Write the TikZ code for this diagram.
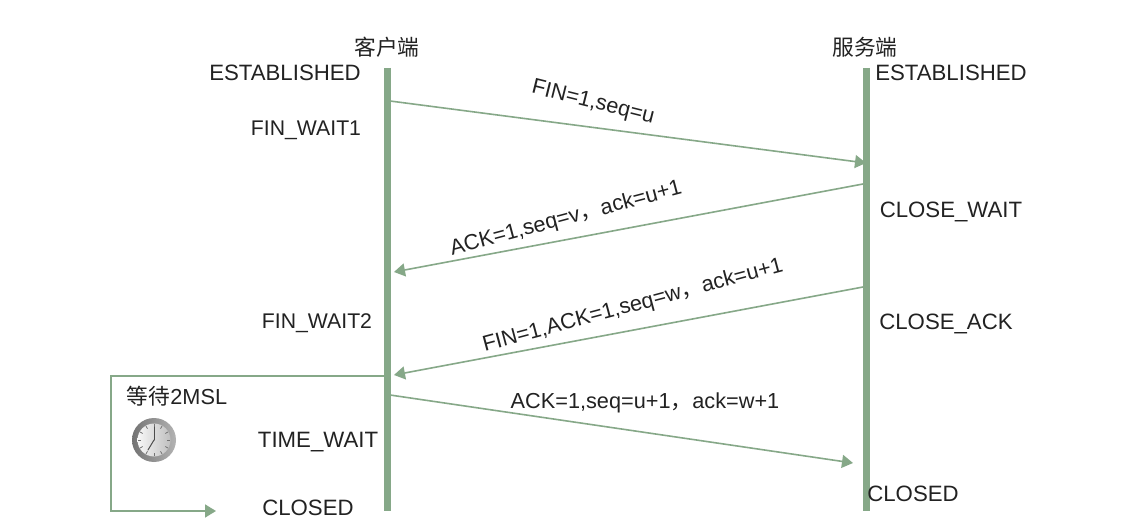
\documentclass[tikz,border=0pt]{standalone}
\usepackage{fontspec}
\setmainfont{Liberation Sans}
\newfontfamily\cjk{Noto Sans CJK SC}
\usetikzlibrary{arrows.meta,calc,positioning}
\definecolor{wire}{HTML}{86A888}
\definecolor{ink}{HTML}{222222}
\tikzset{
	state/.style={inner sep=0pt,text=ink,font=\fontsize{22.3}{24}\selectfont},
	finstate/.style={state,font=\fontsize{21.3}{24}\selectfont},
	msg/.style={state,font=\fontsize{21.8}{24}\selectfont},
	head/.style={state,font=\cjk\fontsize{21.8}{24}\selectfont},
	lifeline/.style={wire,line width=7bp},
	ar/.style={wire,line width=1.6bp,-{Triangle[length=11bp,width=13bp]}},
	hand/.style={black!70,line width=1bp,line cap=round}
}
\begin{document}
\begin{tikzpicture}[x=1bp,y=-1bp]
	\useasboundingbox (0,0) rectangle (1124,522);
	\fill[white] (0,0) rectangle (1124,522);
	\coordinate (Ctop) at (387,68);
	\coordinate (Cbot) at (387,511);
	\coordinate (Stop) at (866,68);
	\coordinate (Sbot) at (866,511);
	\draw[lifeline] (Ctop) -- (Cbot);
	\draw[lifeline] (Stop) -- (Sbot);
	\node [head] (client) at (387,47) {客户端};
	\node [head] (server) at (865,47) {服务端};
	\node [state] (Cest) at (285,73) {ESTABLISHED};
	\node [finstate] (Cfw1) at (306,130) {FIN\_WAIT1};
	\node [finstate] (Cfw2) at (317,323) {FIN\_WAIT2};
	\node [state] (Ctw) at (318,442) {TIME\_WAIT};
	\node [state] (Ccl) at (308,508) {CLOSED};
	\node [state] (Sest) at (951,73) {ESTABLISHED};
	\node [state] (Scw) at (951,212) {CLOSE\_WAIT};
	\node [state] (Sca) at (946,324) {CLOSE\_ACK};
	\node [state] (Scl) at (913,494) {CLOSED};
	\coordinate (m1a) at (390,101);
	\coordinate (m1b) at (866,163);
	\coordinate (m2a) at (863,184);
	\coordinate (m2b) at (394,272);
	\coordinate (m3a) at (863,287);
	\coordinate (m3b) at (394,375);
	\coordinate (m4a) at (390,395);
	\coordinate (m4b) at (853,463);
	\draw[ar] (m1a) -- (m1b);
	\draw[ar] (m2a) -- (m2b);
	\draw[ar] (m3a) -- (m3b);
	\draw[ar] (m4a) -- (m4b);
	\node [msg,rotate=-14] (l1) at (593,103) {FIN=1,seq=u};
	\node [msg,rotate=15] (l2) at (566,219) {ACK=1,seq=v{\cjk，}ack=u+1};
	\node [msg,rotate=15] (l3) at (633,306) {FIN=1,ACK=1,seq=w{\cjk，}ack=u+1};
	\node [msg] (l4) at (645,403) {ACK=1,seq=u+1{\cjk，}ack=w+1};
	\coordinate (wait) at (385,376);
	\coordinate (waitend) at (216,511);
	\draw[ar] (wait) -| (111,511) -- (waitend);
	\node [msg] (msl) at (177,396) {{\cjk 等待}2MSL};
	\node [circle,minimum size=44bp,inner sep=0pt,left color=black!55,right color=black!30] (clock) at (154,440) {};
	\node [circle,minimum size=33bp,inner sep=0pt,left color=black!3,right color=black!25] (dial) at (clock) {};
	\foreach \a in {0,30,...,330}
		\draw[black!55,line width=.8bp] ($(dial)+(\a:13)$) -- ($(dial)+(\a:16)$);
	\draw[hand] (dial.center) -- +(0,-13);
	\draw[hand] (dial.center) -- +(-6,10);
\end{tikzpicture}
\end{document}
